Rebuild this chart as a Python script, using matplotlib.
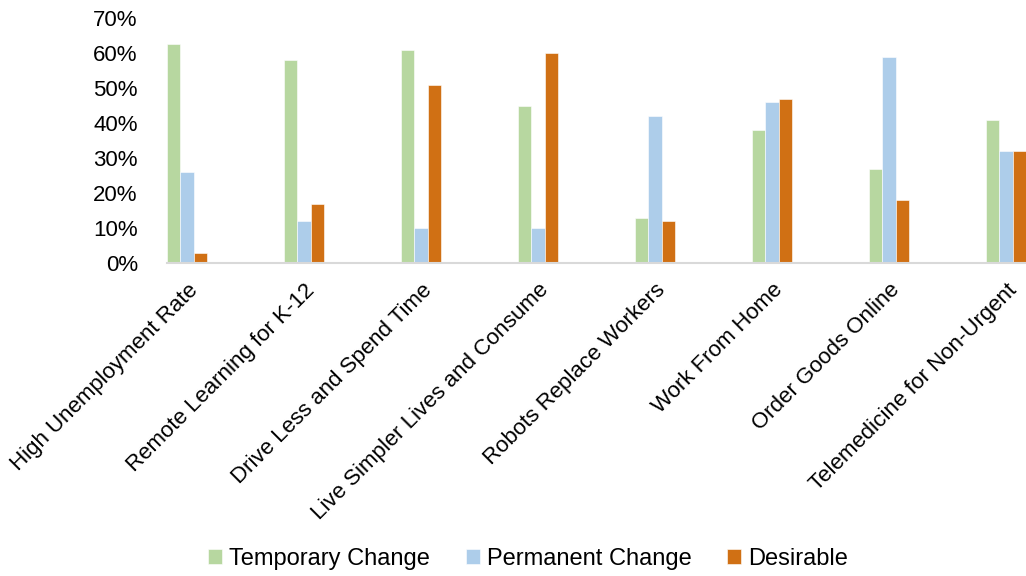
import numpy as np
import matplotlib.pyplot as plt
from matplotlib.ticker import PercentFormatter

plt.rcParams['font.family'] = ['Liberation Sans', 'DejaVu Sans']

categories = ['High Unemployment Rate', 'Remote Learning for K-12', 'Drive Less and Spend Time',
              'Live Simpler Lives and Consume', 'Robots Replace Workers', 'Work From Home',
              'Order Goods Online', 'Telemedicine for Non-Urgent']
temporary = [62.5, 58, 61, 45, 13, 38, 27, 41]
permanent = [26, 12, 10, 10, 42, 46, 59, 32]
desirable = [3, 17, 51, 60, 12, 47, 18, 32]

series = [('Temporary Change', temporary, '#B7D7A0'),
          ('Permanent Change', permanent, '#ADCDEA'),
          ('Desirable', desirable, '#D07014')]

fig = plt.figure(figsize=(10.26, 5.76), dpi=100)
ax = fig.add_axes([167 / 1026, 1 - 263 / 576, (1026 - 167) / 1026, (263 - 18) / 576])

x = np.arange(len(categories))
w = 0.114
for i, (name, vals, col) in enumerate(series):
    ax.bar(x + (i - 1) * w, vals, width=w, color=col, label=name,
           edgecolor='white', linewidth=0.4)

ax.set_xlim(-1.5 * w, len(categories) - 1 + 1.5 * w)
ax.set_ylim(0, 70)
ax.set_yticks(range(0, 71, 10))
ax.yaxis.set_major_formatter(PercentFormatter(decimals=0))
ax.tick_params(axis='y', length=0, pad=21, labelsize=16)
ax.tick_params(axis='x', length=0, pad=12, labelsize=16)
ax.set_xticks(x)
ax.set_xticklabels(categories, rotation=45, ha='right', rotation_mode='anchor')

for s in ['top', 'right', 'left']:
    ax.spines[s].set_visible(False)
ax.spines['bottom'].set_color('#D9D9D9')
ax.spines['bottom'].set_linewidth(1.5)

fig.legend(loc='center', bbox_to_anchor=(528 / 1026, 1 - 559 / 576), ncol=3,
           frameon=False, fontsize=17, handlelength=0.6, handleheight=0.6,
           handletextpad=0.3, columnspacing=1.5)

fig.savefig('out.png', dpi=100)
